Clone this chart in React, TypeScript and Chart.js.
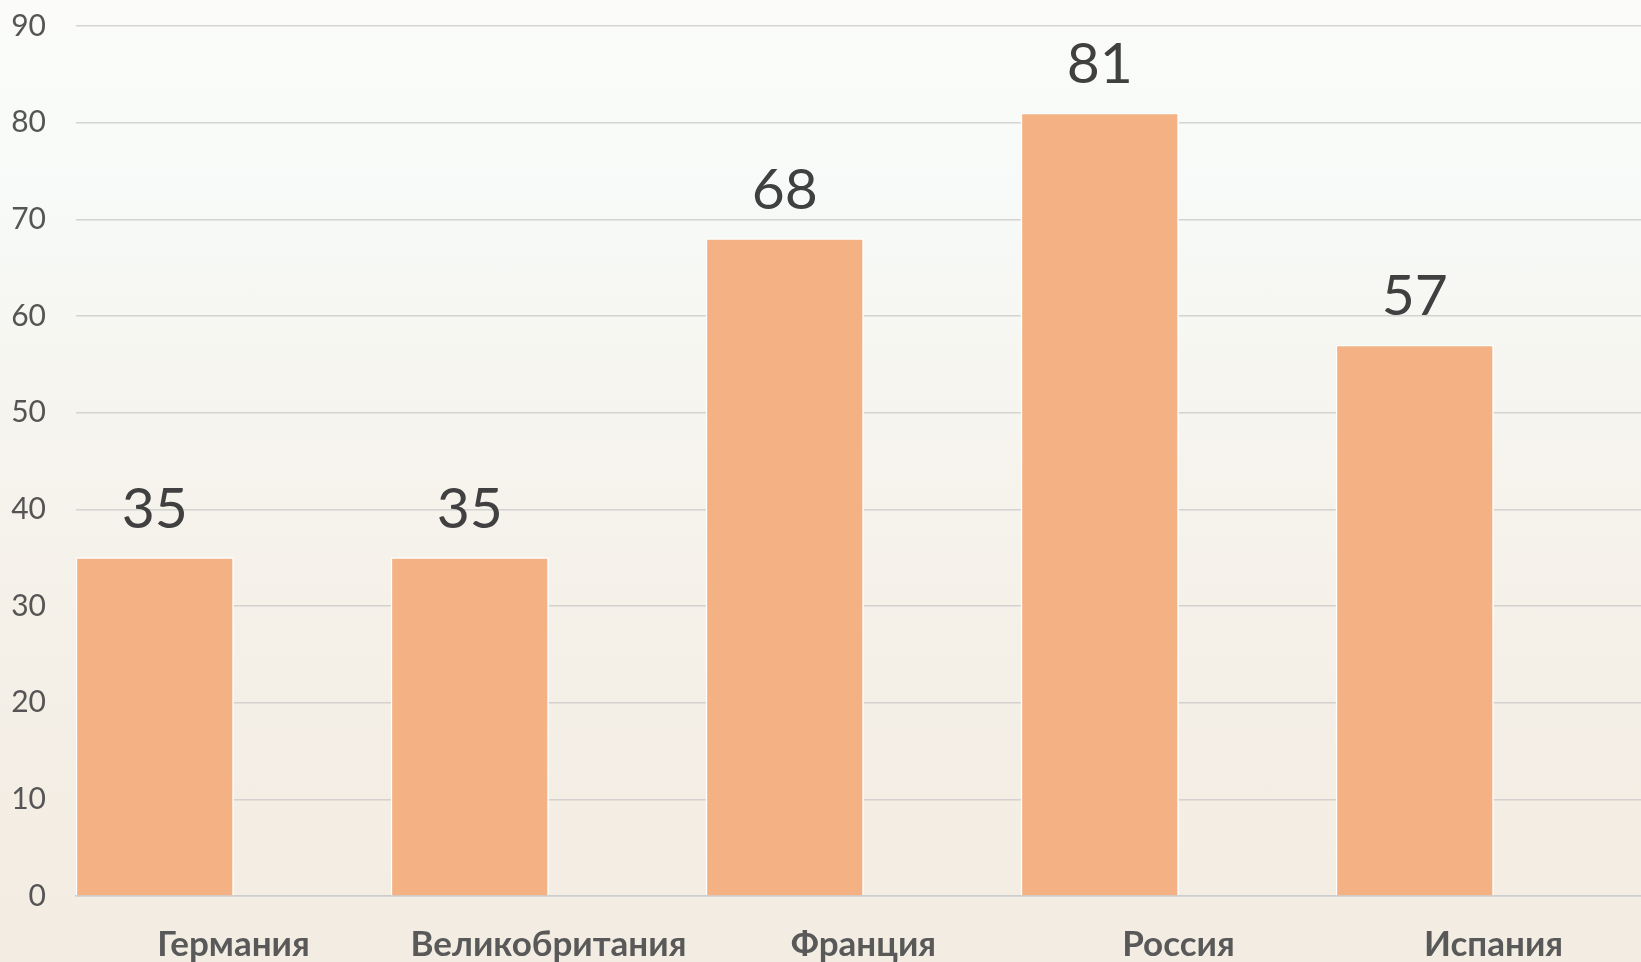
import React, { useEffect, useRef } from "react";
import { Chart, registerables } from "chart.js";

Chart.register(...registerables);

const categories: string[] = ["Германия", "Великобритания", "Франция", "Россия", "Испания"];
const values: number[] = [35, 35, 68, 81, 57];
const emptySeries: (number | null)[] = [null, null, null, null, null];
const yMin = 0;
const yMax = 90;
const yStep = 10;

const FONT = "Lato, 'Noto Sans', sans-serif";

const valueLabelPlugin = {
  id: "valueLabels",
  afterDatasetsDraw(chart: any) {
    const ctx = chart.ctx;
    const meta = chart.getDatasetMeta(0);
    ctx.save();
    ctx.font = `57px ${FONT}`;
    ctx.fillStyle = "#404040";
    ctx.textAlign = "center";
    ctx.textBaseline = "alphabetic";
    meta.data.forEach((bar: any, i: number) => {
      const v = chart.data.datasets[0].data[i];
      if (v == null) return;
      ctx.fillText(String(v), bar.x, bar.y - 30);
    });
    ctx.restore();
  },
};

export default function App() {
  const ref = useRef<HTMLCanvasElement | null>(null);

  useEffect(() => {
    if (!ref.current) return;
    const gridColor = "rgba(205,205,205,0.85)";
    const chart = new Chart(ref.current, {
      type: "bar",
      data: {
        labels: categories,
        datasets: [
          {
            data: values,
            backgroundColor: "#F4B183",
            borderColor: "#FFFFFF",
            borderWidth: 1.5,
            categoryPercentage: 1,
            barPercentage: 1,
          },
          {
            data: emptySeries,
            backgroundColor: "#F4B183",
            categoryPercentage: 1,
            barPercentage: 1,
          },
        ],
      },
      options: {
        animation: false,
        responsive: false,
        maintainAspectRatio: false,
        layout: { padding: { top: 26, left: 0, right: 0, bottom: 0 } },
        plugins: {
          legend: { display: false },
          tooltip: { enabled: false },
        },
        scales: {
          x: {
            grid: { display: false, drawTicks: false },
            border: { display: true, color: gridColor, width: 1.5 },
            ticks: {
              color: "#595959",
              font: { family: FONT, size: 35, weight: "bold" },
              padding: 28,
              maxRotation: 0,
              autoSkip: false,
            },
            afterFit: (s: any) => {
              s.height = 962 - 896;
            },
          },
          y: {
            min: yMin,
            max: yMax,
            grid: { color: gridColor, lineWidth: 1.5, drawTicks: false },
            border: { display: false },
            ticks: {
              stepSize: yStep,
              color: "#555555",
              font: { family: FONT, size: 30 },
              padding: 30,
            },
            afterFit: (s: any) => {
              s.width = 76;
              s.paddingTop = 0;
              s.paddingBottom = 0;
            },
          },
        },
      },
      plugins: [valueLabelPlugin],
    });
    return () => chart.destroy();
  }, []);

  return (
    <div
      style={{
        position: "fixed",
        left: 0,
        top: 0,
        width: 1641,
        height: 962,
        overflow: "hidden",
        background:
          "linear-gradient(180deg, #FBFCF9 0%, #F7FAF8 20%, #F6F4EE 45%, #F4EFE6 75%, #F3ECE2 100%)",
      }}
    >
      <canvas ref={ref} width={1651} height={962} style={{ display: "block" }} />
    </div>
  );
}
